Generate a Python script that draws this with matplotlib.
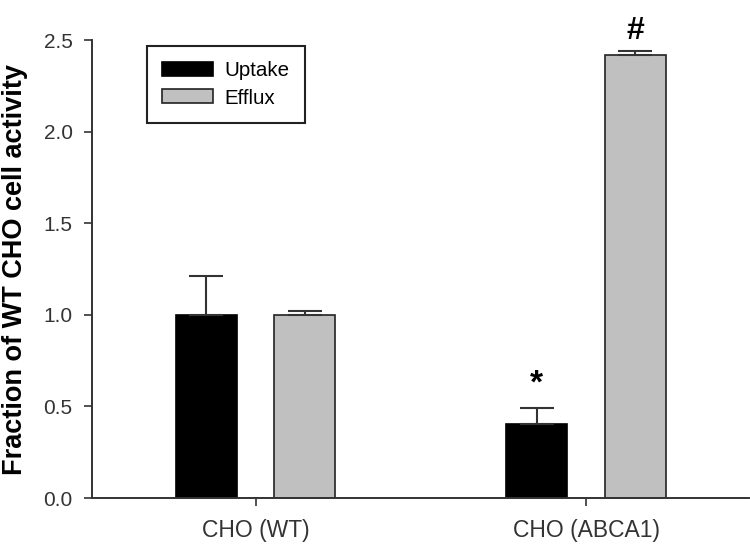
import matplotlib
matplotlib.use("Agg")
import matplotlib.pyplot as plt
import numpy as np

plt.rcParams['font.family'] = ['Liberation Sans', 'DejaVu Sans']

categories = ["CHO (WT)", "CHO (ABCA1)"]
uptake = [1.0, 0.405]
uptake_err = [0.21, 0.085]
efflux = [1.0, 2.42]
efflux_err = [0.02, 0.02]
uptake_marks = ["", "*"]
efflux_marks = ["", "#"]

fig = plt.figure(figsize=(7.5, 5.46), dpi=100)
ax = fig.add_axes([0.1227, 0.0879, 0.876, 0.8388])

x = np.arange(len(categories))
w = 0.185
off = 0.149
ekw = dict(ecolor='#333333', elinewidth=1.5, capsize=12, capthick=1.5)
ax.bar(x - off, uptake, w, color='black', edgecolor='black', linewidth=1.2, label='Uptake')
ax.errorbar(x - off, uptake, yerr=[np.zeros(len(x)), uptake_err], fmt='none', **ekw, zorder=1)
ax.bar(x + off, efflux, w, color='#c0c0c0', edgecolor='#222222', linewidth=1.2, label='Efflux')
ax.errorbar(x + off, efflux, yerr=[np.zeros(len(x)), efflux_err], fmt='none', **ekw, zorder=1)

for xi, v, e, m in zip(x - off, uptake, uptake_err, uptake_marks):
    if m:
        ax.text(xi, v + e + 0.13, m, ha='center', va='center', fontsize=24, fontweight='bold')
for xi, v, e, m in zip(x + off, efflux, efflux_err, efflux_marks):
    if m:
        ax.text(xi, v + e + 0.11, m, ha='center', va='center', fontsize=23, fontweight='bold')

ax.set_xlim(-0.495, 1.493)
ax.set_ylim(0, 2.5)
ax.set_yticks([0, 0.5, 1.0, 1.5, 2.0, 2.5])
ax.set_yticklabels(['0.0', '0.5', '1.0', '1.5', '2.0', '2.5'])
ax.set_xticks(x)
ax.set_xticklabels(categories)
ax.tick_params(axis='both', colors='#333333', length=6, width=1.2, direction='out')
ax.tick_params(axis='y', labelsize=15, pad=8)
ax.tick_params(axis='x', labelsize=16.5, pad=9)
for s in ['top', 'right']:
    ax.spines[s].set_visible(False)
for s in ['left', 'bottom']:
    ax.spines[s].set_linewidth(1.4)
    ax.spines[s].set_color('#333333')
ax.set_ylabel('Fraction of WT CHO cell activity', fontsize=19.5, fontweight='bold', labelpad=11)

leg = ax.legend(loc='upper left', bbox_to_anchor=(0.0837, 0.987), fontsize=14.8,
                frameon=True, fancybox=False, edgecolor='#222222', handlelength=2.45,
                handleheight=0.68, borderpad=0.75, labelspacing=0.4, handletextpad=0.55,
                borderaxespad=0, framealpha=1)
leg.get_frame().set_linewidth(1.5)

fig.savefig('out.png', dpi=100)
